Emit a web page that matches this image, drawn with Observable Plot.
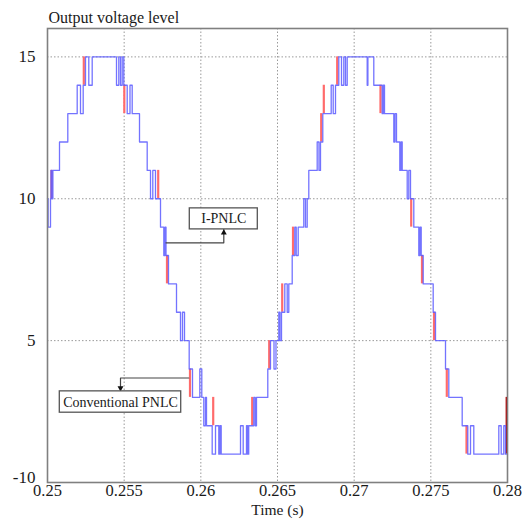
<!DOCTYPE html>
<html>
<head>
<meta charset="utf-8">
<script src="https://cdn.jsdelivr.net/npm/d3@7"></script>
<script src="https://cdn.jsdelivr.net/npm/@observablehq/plot@0.6"></script>
<style>
  html, body { margin: 0; padding: 0; background: #fff; }
</style>
</head>
<body>
<div id="chart"></div>
<script>
// I-PNLC output level: switching instants (s) and the level held from each instant on
const iPnlcTime = [
  0.250000, 0.250039, 0.250196, 0.250228, 0.250300, 0.250352, 0.250783, 0.251324,
  0.251937, 0.252152, 0.252328, 0.252478, 0.252693, 0.252915, 0.254500, 0.254650,
  0.254761, 0.254872, 0.254976, 0.255198, 0.255380, 0.255524, 0.256000, 0.256502,
  0.256717, 0.256867, 0.257043, 0.257370, 0.257585, 0.257663, 0.257728, 0.257891,
  0.258413, 0.258674, 0.258804, 0.258935, 0.259241, 0.259457, 0.259933, 0.260063,
  0.260193, 0.260304, 0.260370, 0.260741, 0.260957, 0.261172, 0.261250, 0.261328,
  0.262587, 0.262763, 0.262978, 0.263050, 0.263122, 0.263455, 0.263546, 0.263630,
  0.264367, 0.264543, 0.264772, 0.264902, 0.265085, 0.265163, 0.265261, 0.265476,
  0.265633, 0.265737, 0.265959, 0.266128, 0.266220, 0.266350, 0.266715, 0.266826,
  0.266937, 0.267041, 0.267589, 0.267706, 0.267804, 0.267954, 0.268502, 0.268633,
  0.268783, 0.268998, 0.269174, 0.269324, 0.269435, 0.269546, 0.270850, 0.270896,
  0.271280, 0.271828, 0.271900, 0.271978, 0.272585, 0.272663, 0.272761, 0.272976,
  0.273054, 0.273133, 0.273459, 0.273563, 0.273674, 0.273889, 0.274215, 0.274293,
  0.274372, 0.274502, 0.275154, 0.275304, 0.275957, 0.276172, 0.277045, 0.277411,
  0.277587, 0.277802, 0.279433, 0.279589, 0.279759, 0.279870, 0.280000
];
const iPnlcLevel = [
  10, 9, 10, 11, 10, 11, 12, 13,
  14, 13, 14, 15, 14, 15, 14, 15,
  14, 15, 14, 13, 14, 13, 12, 11,
  10, 11, 10, 9, 8, 9, 8, 7,
  6, 5, 6, 5, 4, 3, 4, 3,
  2, 3, 2, 1, 2, 1, 2, 1,
  2, 1, 2, 1, 2, 3, 2, 3,
  4, 5, 4, 5, 6, 5, 6, 7,
  6, 7, 8, 9, 8, 9, 10, 9,
  10, 11, 12, 11, 12, 13, 14, 13,
  14, 15, 14, 15, 14, 15, 14, 15,
  14, 13, 14, 13, 12, 13, 12, 11,
  12, 11, 10, 11, 10, 9, 8, 9,
  8, 7, 6, 5, 4, 3, 2, 1,
  2, 1, 2, 1, 2, 1, 1
];

// Conventional PNLC: switching edges where it departs from I-PNLC (time, lower and upper level)
const convTime = [
  0.250261, 0.252367, 0.255009, 0.257220, 0.257793, 0.259293, 0.260807,
  0.263350, 0.264459, 0.265307, 0.266011, 0.267850, 0.268020, 0.268893,
  0.271717, 0.273720, 0.274424, 0.275207, 0.276041, 0.277326, 0.279935
];
const convLow  = [10, 14, 13, 10, 7, 3, 2, 2, 4, 6, 8, 12, 13, 14, 13, 9, 7, 5, 3, 1, 1];
const convHigh = [11, 15, 14, 11, 8, 4, 3, 3, 5, 7, 9, 13, 14, 15, 14, 10, 8, 6, 4, 2, 3];

// Axis ticks
const xTickValues = [0.25, 0.255, 0.26, 0.265, 0.27, 0.275, 0.28];
const xTickLabels = ["0.25", "0.255", "0.26", "0.265", "0.27", "0.275", "0.28"];
const yTickValues = [0, 5, 10, 15];
const yTickLabels = ["-10", "5", "10", "15"];

// Callouts: label, box corners (time, level), and leader path from the trace to the box
const calloutText = ["I-PNLC", "Conventional PNLC"];
const calloutT1 = [0.259280, 0.250802];
const calloutT2 = [0.263715, 0.258720];
const calloutL1 = [8.920, 2.460];
const calloutL2 = [9.661, 3.212];
const leaderFromT = [0.257728, 0.259215];
const leaderLevel = [8.447, 3.682];
const leaderToT = [0.261498, 0.254761];
const leaderEndLevel = [8.920, 3.212];

const titleText = "Output voltage level";
const xLabelText = "Time (s)";

const iPnlc = iPnlcTime.map((t, i) => ({t, level: iPnlcLevel[i]}));
const conv = convTime.map((t, i) => ({t, lo: convLow[i], hi: convHigh[i], last: i === convTime.length - 1}));
const callouts = calloutText.map((text, i) => ({
  text,
  t1: calloutT1[i], t2: calloutT2[i], l1: calloutL1[i], l2: calloutL2[i],
  tc: (calloutT1[i] + calloutT2[i]) / 2, lc: (calloutL1[i] + calloutL2[i]) / 2
}));
const leaders = calloutText.flatMap((text, i) => [
  {id: i, t: leaderFromT[i], level: leaderLevel[i]},
  {id: i, t: leaderToT[i], level: leaderLevel[i]},
  {id: i, t: leaderToT[i], level: leaderEndLevel[i]}
]);
const heads = calloutText.map((text, i) => ({
  t: leaderToT[i], level: leaderEndLevel[i], up: leaderEndLevel[i] > leaderLevel[i]
}));

const serif = "'Liberation Serif', 'Times New Roman', serif";
const inkColor = "#1a1a1a";

const chart = Plot.plot({
  width: 527,
  height: 519,
  marginLeft: 47,
  marginRight: 20,
  marginTop: 28,
  marginBottom: 37,
  style: {fontFamily: serif, fontSize: "17px", color: inkColor, background: "#fff"},
  x: {domain: [0.25, 0.28]},
  y: {domain: [0, 16]},
  marks: [
    Plot.gridX(xTickValues.slice(1, -1), {stroke: "#9a9a9a", strokeOpacity: 1, strokeDasharray: "1.5,2"}),
    Plot.gridY(yTickValues.slice(1), {stroke: "#9a9a9a", strokeOpacity: 1, strokeDasharray: "1.5,2"}),
    Plot.axisX(xTickValues, {
      tickSize: 0, tickPadding: 2, fontSize: 16.5, fill: inkColor,
      tickFormat: (d, i) => xTickLabels[i],
      label: null
    }),
    Plot.text([xLabelText], {frameAnchor: "bottom", dy: 27.5, fontSize: 15.5, fill: inkColor, lineAnchor: "middle"}),
    Plot.axisY(yTickValues.slice(1), {
      tickSize: 0, tickPadding: 12, fontSize: 17, fill: inkColor,
      tickFormat: d => yTickLabels[yTickValues.indexOf(d)],
      label: null
    }),
    Plot.axisY(yTickValues.slice(0, 1), {
      tickSize: 0, tickPadding: 12, fontSize: 17, fill: inkColor, dy: -5,
      tickFormat: d => yTickLabels[yTickValues.indexOf(d)],
      label: null
    }),
    Plot.text([titleText], {frameAnchor: "top-left", dx: 1, dy: -17, fontSize: 16, fill: inkColor, textAnchor: "start"}),
    // conventional PNLC edges (drawn beneath the I-PNLC trace)
    Plot.ruleX(conv.filter(d => !d.last), {x: "t", y1: "lo", y2: "hi", stroke: "#ff6b6b", strokeWidth: 2.2}),
    Plot.ruleX(conv.filter(d => d.last), {x: "t", y1: "lo", y2: "hi", stroke: "#b00000", strokeWidth: 1.8}),
    // I-PNLC staircase
    Plot.line(iPnlc, {x: "t", y: "level", curve: "step-after", stroke: "#5a5aff", strokeWidth: 1.3, strokeOpacity: 0.85}),
    // callouts
    Plot.line(leaders, {x: "t", y: "level", z: "id", stroke: "#444", strokeWidth: 1.2}),
    Plot.dot(heads.filter(d => d.up), {x: "t", y: "level", symbol: "triangle", r: 2.2, fill: "#111", stroke: null, dy: 3.4}),
    Plot.dot(heads.filter(d => !d.up), {x: "t", y: "level", symbol: "triangle", r: 2.2, fill: "#111", stroke: null, rotate: 180, dy: -3.4}),
    Plot.rect(callouts, {x1: "t1", x2: "t2", y1: "l1", y2: "l2", fill: "#fff", stroke: "#555", strokeWidth: 1.3}),
    Plot.text(callouts, {x: "tc", y: "lc", text: "text", fontSize: 14, fill: inkColor}),
    Plot.frame({stroke: "#808080", strokeWidth: 1.6})
  ]
});
document.getElementById("chart").appendChild(chart);
</script>
</body>
</html>
